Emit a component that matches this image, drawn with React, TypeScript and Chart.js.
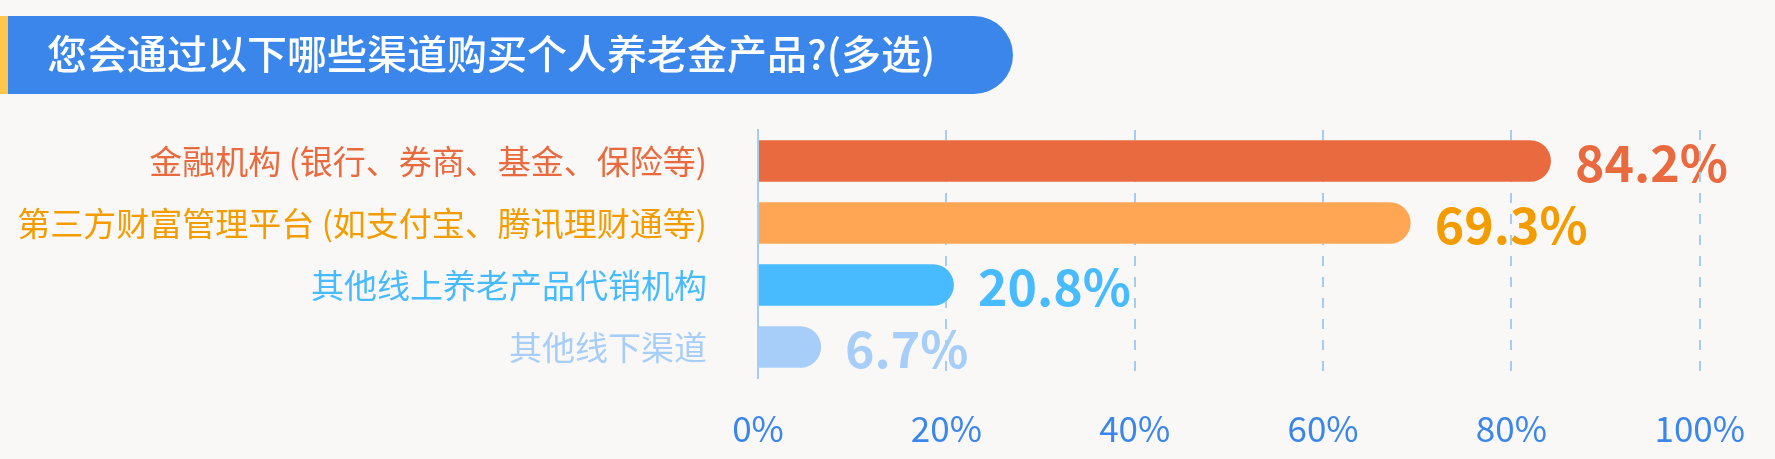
import React, { useEffect, useRef } from "react";
import { Chart, registerables } from "chart.js";

Chart.register(...registerables);

const TITLE = "您会通过以下哪些渠道购买个人养老金产品?(多选)";
const categories = [
  "金融机构 (银行、券商、基金、保险等)",
  "第三方财富管理平台 (如支付宝、腾讯理财通等)",
  "其他线上养老产品代销机构",
  "其他线下渠道",
];
const values = [84.2, 69.3, 20.8, 6.7];
const barColors = ["#e96a3e", "#ffa654", "#48bbff", "#a6cef9"];
const labelColors = ["#e96a3e", "#f39c00", "#48bbff", "#a6cef9"];
const xTickStep = 20;
const xMin = 0;
const xMax = 100;

const FONT = "'Noto Sans CJK SC', 'Noto Sans', sans-serif";
const BG = "#f9f8f6";
const GRID = "#a3cdf5";
const TICK_BLUE = "#3a86ea";

const valueLabelPlugin = {
  id: "valueLabels",
  beforeDraw(chart: any) {
    const ctx = chart.ctx;
    const meta = chart.getDatasetMeta(0);
    ctx.save();
    ctx.font = `bold 50px ${FONT}`;
    ctx.textAlign = "left";
    ctx.textBaseline = "middle";
    meta.data.forEach((bar: any, i: number) => {
      ctx.fillStyle = labelColors[i];
      ctx.fillText(values[i].toFixed(1) + "%", bar.x + 24, bar.y + 2);
    });
    ctx.restore();
  },
};

export default function App() {
  const ref = useRef<HTMLCanvasElement>(null);

  useEffect(() => {
    const chart = new Chart(ref.current as HTMLCanvasElement, {
      type: "bar",
      data: {
        labels: categories,
        datasets: [
          {
            data: values,
            backgroundColor: barColors,
            borderWidth: 0,
            borderRadius: 21,
            borderSkipped: "start",
            barPercentage: 0.67,
            categoryPercentage: 1,
          },
        ],
      },
      options: {
        indexAxis: "y",
        animation: false,
        responsive: true,
        maintainAspectRatio: false,
        layout: { padding: { top: 130, right: 73, left: 0, bottom: 0 } },
        plugins: {
          legend: { display: false },
          tooltip: { enabled: false },
          title: { display: false },
        },
        scales: {
          x: {
            min: xMin,
            max: xMax,
            afterFit: (s: any) => {
              s.height = 81;
            },
            ticks: {
              stepSize: xTickStep,
              padding: 30,
              color: TICK_BLUE,
              font: { family: FONT, size: 35 },
              callback: (v: any) => v + "%",
            },
            grid: {
              drawTicks: false,
              lineWidth: 2,
              color: (c: any) => (c.index === 0 ? "rgba(0,0,0,0)" : GRID),
            },
            border: { display: false, dash: [10, 11] },
          },
          y: {
            afterFit: (s: any) => {
              s.width = 758;
            },
            ticks: {
              padding: 51,
              color: (c: any) => labelColors[c.index],
              font: { family: FONT, size: 33 },
            },
            grid: { display: false, drawTicks: false },
            border: { display: true, color: GRID, width: 2 },
          },
        },
      },
      plugins: [valueLabelPlugin],
    });
    return () => chart.destroy();
  }, []);

  return (
    <div
      style={{
        position: "absolute",
        left: 0,
        top: 0,
        width: 1775,
        height: 459,
        background: BG,
        overflow: "hidden",
        fontFamily: FONT,
      }}
    >
      <div style={{ position: "absolute", left: 0, top: 0, width: 1775, height: 459 }}>
        <canvas ref={ref} />
      </div>
      <div
        style={{
          position: "absolute",
          left: 0,
          top: 16,
          width: 8,
          height: 78,
          background: "#fec74a",
        }}
      />
      <div
        style={{
          position: "absolute",
          left: 8,
          top: 16,
          width: 1005,
          height: 78,
          background: "#3a86ea",
          borderRadius: "0 39px 39px 0",
        }}
      />
      <div
        style={{
          position: "absolute",
          left: 47,
          top: 13,
          height: 78,
          lineHeight: "78px",
          fontSize: 40,
          fontWeight: 500,
          color: "#ffffff",
          whiteSpace: "nowrap",
        }}
      >
        {TITLE}
      </div>
    </div>
  );
}
